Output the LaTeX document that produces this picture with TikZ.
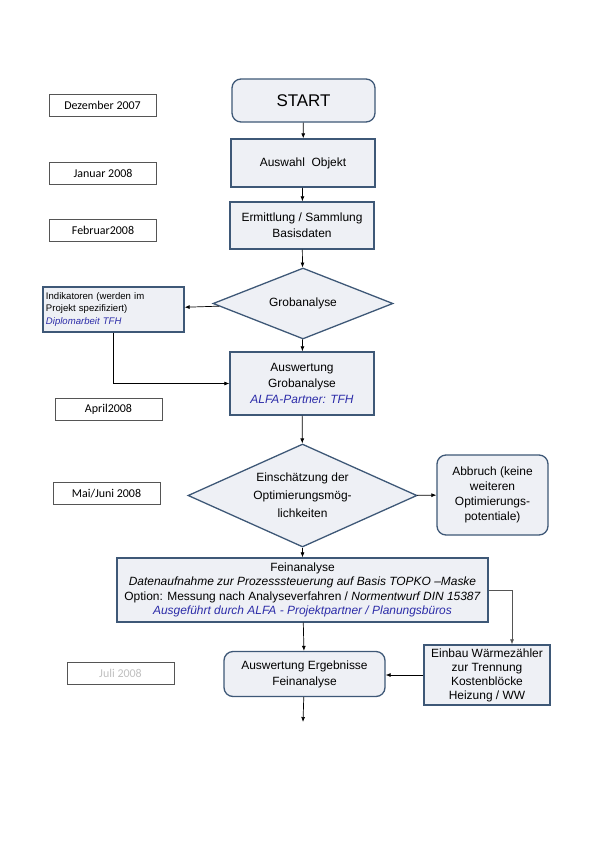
\documentclass[tikz,border=0pt]{standalone}
\usepackage{fontspec}
\setmainfont{Liberation Sans}
\newfontfamily\datefont{Carlito}
\usetikzlibrary{shapes.geometric,arrows.meta}
\definecolor{boxfill}{HTML}{EEF0F5}
\definecolor{boxline}{HTML}{3E5877}
\definecolor{partner}{HTML}{2B2BA8}
\definecolor{dateline}{HTML}{555555}
\begin{document}
\begin{tikzpicture}[
    x=1bp, y=-1bp,
    box/.style={rectangle, draw=boxline, fill=boxfill, line width=1.3pt, align=center, inner sep=1pt, font=\fontsize{12}{16}\selectfont},
    roundbox/.style={box, rounded corners=9bp},
    decision/.style={diamond, draw=boxline, fill=boxfill, line width=1.3pt, align=center, inner sep=0pt, aspect=2.2, font=\fontsize{12}{18}\selectfont},
    datebox/.style={rectangle, draw=dateline, line width=1pt, minimum width=107bp, minimum height=22bp, inner sep=1pt, font=\datefont\fontsize{12}{13}\selectfont},
    arrow/.style={-{Latex[length=5pt,width=4pt]}, line width=0.7pt}
]
\useasboundingbox (0,0) rectangle (595,842);

% Dates
\node[datebox] (dez) at (102.5,105) {Dezember 2007};
\node[datebox] (jan) at (103,173) {Januar 2008};
\node[datebox] (feb) at (103,230) {Februar2008};
\node[datebox] (apr) at (108.5,409) {April2008};
\node[datebox] (mai) at (106.5,493.5) {Mai/Juni 2008};
\node[datebox, text=black!25] (jul) at (120.5,673.5) {Juli 2008};

% Main flow
\node[roundbox, minimum width=143bp, minimum height=43bp, font=\fontsize{17}{19}\selectfont] (start) at (303.5,100.5) {START};
\node[box, minimum width=144bp, minimum height=48bp] (auswahl) at (303,163) {Auswahl\ \ Objekt};
\node[box, minimum width=144bp, minimum height=47bp] (ermittlung) at (302,225.5) {Ermittlung / Sammlung\\Basisdaten};
\node[decision, minimum width=180bp, minimum height=71bp] (grob) at (303,303.5) {Grobanalyse};
\node[box, minimum width=144bp, minimum height=63bp, font=\fontsize{12}{16.5}\selectfont] (ausgrob) at (302,383.5) {Auswertung\\Grobanalyse\\\textcolor{partner}{\itshape ALFA-Partner: TFH}};
\node[decision, minimum width=229bp, minimum height=103bp] (einsch) at (302.5,495.5) {Einschätzung der\\Optimierungsmög-\\lichkeiten};
\node[box, minimum width=371bp, minimum height=64bp, inner sep=0pt, font=\fontsize{12}{14.3}\selectfont] (fein) at (302.5,590) {Feinanalyse\\\textit{Datenaufnahme zur Prozesssteuerung auf Basis TOPKO --Maske}\\Option: Messung nach Analyseverfahren / \textit{Normentwurf DIN 15387}\\\textcolor{partner}{\itshape Ausgeführt durch ALFA - Projektpartner / Planungsbüros}};
\node[roundbox, minimum width=161bp, minimum height=45bp] (ausfein) at (304.5,674) {Auswertung Ergebnisse\\Feinanalyse};
\coordinate (ende) at (303,722);

% Side branches
\node[box, minimum width=141bp, minimum height=45bp, align=left, text width=135bp, font=\fontsize{9.6}{12.5}\selectfont] (indik) at (113.5,309.5) {Indikatoren (werden im\\Projekt spezifiziert)\\\textcolor{partner}{\itshape Diplomarbeit TFH}};
\node[roundbox, minimum width=111bp, minimum height=80bp, font=\fontsize{12}{15}\selectfont] (abbruch) at (492.5,495) {Abbruch (keine\\weiteren\\Optimierungs-\\potentiale)};
\node[box, minimum width=126bp, minimum height=60bp, font=\fontsize{12}{14}\selectfont] (einbau) at (487,675) {Einbau Wärmezähler\\zur Trennung\\Kostenblöcke\\Heizung / WW};

% Connectors
\draw[arrow] (start) -- (auswahl);
\draw[arrow] (auswahl) -- (ermittlung);
\draw[arrow] (ermittlung) -- (grob);
\draw[arrow] (grob) -- (indik);
\draw[arrow] (grob) -- (ausgrob);
\draw[arrow] (indik.south) |- (ausgrob.west);
\draw[arrow] (ausgrob) -- (einsch);
\draw[arrow] (einsch) -- (abbruch);
\draw[arrow] (einsch) -- (fein);
\draw[arrow] (fein) -- (ausfein);
\draw[arrow, draw=dateline] (fein.east) -| ([xshift=25bp]einbau.north);
\draw[arrow] (einbau.west) -- (einbau.west -| ausfein.east);
\draw[arrow] (ausfein) -- (ende);

\end{tikzpicture}
\end{document}
